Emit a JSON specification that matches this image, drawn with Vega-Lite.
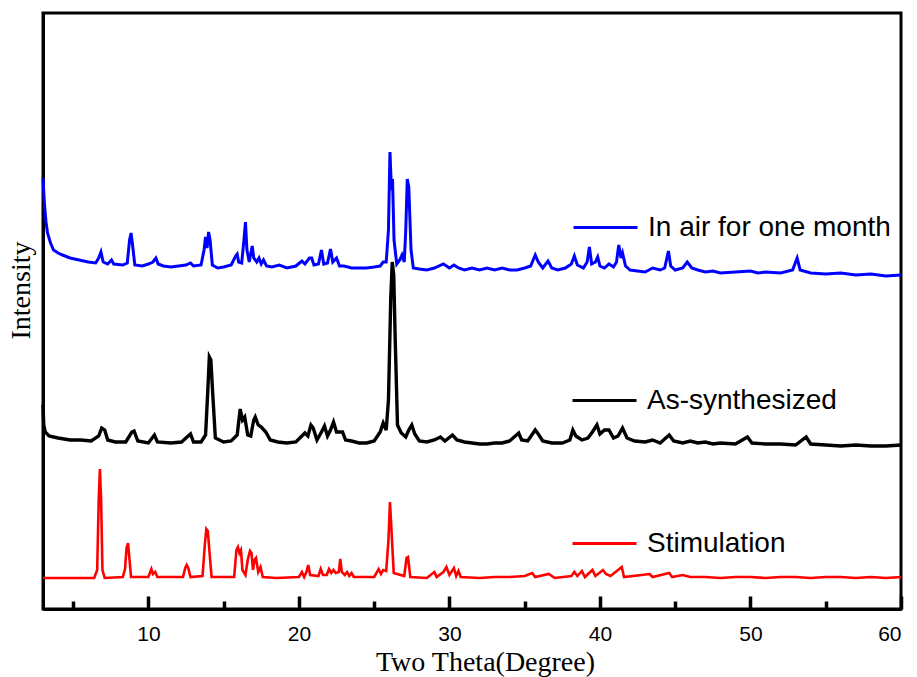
{
  "$schema": "https://vega.github.io/schema/vega-lite/v6.json",
  "width": 858,
  "height": 596,
  "autosize": "none",
  "padding": {"left": 43, "top": 13, "right": 16, "bottom": 68},
  "background": "white",
  "datasets": {
    "blue": [
      {"t":3.0,"i":431},{"t":3.1,"i":404},{"t":3.2,"i":387},{"t":3.3,"i":376},{"t":3.5,"i":366},{"t":3.7,"i":359},{"t":4.0,"i":356},{"t":4.3,"i":354},{"t":4.8,"i":351},{"t":5.4,"i":349},{"t":6.0,"i":347},{"t":6.5,"i":346},{"t":6.7,"i":351},{"t":6.85,"i":357},{"t":7.0,"i":347},{"t":7.3,"i":345},{"t":7.55,"i":349},{"t":7.7,"i":345},{"t":8.3,"i":344},{"t":8.6,"i":346},{"t":8.75,"i":369},{"t":8.85,"i":376},{"t":8.95,"i":364},{"t":9.1,"i":344},{"t":9.6,"i":343},{"t":10.0,"i":345},{"t":10.3,"i":347},{"t":10.5,"i":351},{"t":10.65,"i":345},{"t":11.0,"i":343},{"t":11.5,"i":342},{"t":12.0,"i":343},{"t":12.5,"i":344},{"t":12.8,"i":346},{"t":13.0,"i":343},{"t":13.5,"i":344},{"t":13.7,"i":359},{"t":13.8,"i":372},{"t":13.9,"i":361},{"t":14.0,"i":377},{"t":14.1,"i":369},{"t":14.25,"i":344},{"t":14.6,"i":341},{"t":15.0,"i":342},{"t":15.5,"i":344},{"t":15.8,"i":353},{"t":15.9,"i":355},{"t":16.0,"i":347},{"t":16.2,"i":346},{"t":16.35,"i":369},{"t":16.45,"i":387},{"t":16.55,"i":359},{"t":16.7,"i":347},{"t":16.9,"i":363},{"t":17.0,"i":351},{"t":17.2,"i":347},{"t":17.35,"i":351},{"t":17.5,"i":345},{"t":17.65,"i":349},{"t":17.85,"i":343},{"t":18.2,"i":342},{"t":18.7,"i":344},{"t":19.2,"i":341},{"t":19.8,"i":343},{"t":20.2,"i":348},{"t":20.4,"i":345},{"t":20.7,"i":351},{"t":20.85,"i":351},{"t":21.0,"i":344},{"t":21.3,"i":345},{"t":21.5,"i":359},{"t":21.65,"i":345},{"t":21.9,"i":346},{"t":22.1,"i":360},{"t":22.25,"i":347},{"t":22.5,"i":351},{"t":22.7,"i":343},{"t":23.0,"i":343},{"t":23.5,"i":341},{"t":24.0,"i":341},{"t":24.5,"i":341},{"t":25.0,"i":342},{"t":25.4,"i":343},{"t":25.6,"i":347},{"t":25.8,"i":347},{"t":25.95,"i":379},{"t":26.05,"i":457},{"t":26.15,"i":419},{"t":26.22,"i":430},{"t":26.32,"i":369},{"t":26.5,"i":345},{"t":26.7,"i":349},{"t":26.85,"i":354},{"t":27.0,"i":347},{"t":27.1,"i":379},{"t":27.2,"i":430},{"t":27.3,"i":422},{"t":27.45,"i":359},{"t":27.6,"i":341},{"t":28.0,"i":340},{"t":28.5,"i":339},{"t":29.0,"i":341},{"t":29.6,"i":345},{"t":30.0,"i":341},{"t":30.3,"i":344},{"t":30.6,"i":341},{"t":31.0,"i":339},{"t":31.5,"i":341},{"t":32.0,"i":339},{"t":32.5,"i":341},{"t":33.0,"i":339},{"t":33.5,"i":341},{"t":34.0,"i":339},{"t":34.5,"i":339},{"t":35.0,"i":341},{"t":35.4,"i":343},{"t":35.7,"i":354},{"t":35.9,"i":347},{"t":36.2,"i":341},{"t":36.55,"i":348},{"t":36.8,"i":341},{"t":37.2,"i":339},{"t":37.7,"i":341},{"t":38.1,"i":345},{"t":38.3,"i":353},{"t":38.5,"i":344},{"t":38.9,"i":341},{"t":39.15,"i":347},{"t":39.3,"i":362},{"t":39.45,"i":345},{"t":39.7,"i":347},{"t":39.85,"i":352},{"t":40.0,"i":343},{"t":40.3,"i":341},{"t":40.6,"i":345},{"t":40.9,"i":342},{"t":41.1,"i":347},{"t":41.25,"i":364},{"t":41.4,"i":351},{"t":41.5,"i":356},{"t":41.7,"i":343},{"t":42.0,"i":339},{"t":42.5,"i":338},{"t":43.0,"i":337},{"t":43.5,"i":341},{"t":44.0,"i":339},{"t":44.3,"i":341},{"t":44.55,"i":358},{"t":44.7,"i":343},{"t":45.0,"i":339},{"t":45.5,"i":341},{"t":45.8,"i":347},{"t":46.1,"i":341},{"t":46.5,"i":339},{"t":47.0,"i":337},{"t":47.5,"i":338},{"t":48.0,"i":336},{"t":49.0,"i":337},{"t":50.0,"i":338},{"t":50.5,"i":336},{"t":51.0,"i":337},{"t":52.0,"i":336},{"t":52.8,"i":339},{"t":53.1,"i":351},{"t":53.3,"i":339},{"t":54.0,"i":336},{"t":55.0,"i":335},{"t":56.0,"i":336},{"t":57.0,"i":334},{"t":58.0,"i":335},{"t":59.0,"i":333},{"t":60.0,"i":334}
    ],
    "black": [
      {"t":3.0,"i":204},{"t":3.05,"i":184},{"t":3.15,"i":177},{"t":3.4,"i":173},{"t":4.0,"i":171},{"t":4.8,"i":169},{"t":5.5,"i":169},{"t":6.2,"i":168},{"t":6.7,"i":173},{"t":6.9,"i":181},{"t":7.1,"i":179},{"t":7.3,"i":169},{"t":7.8,"i":167},{"t":8.5,"i":167},{"t":8.9,"i":177},{"t":9.05,"i":178},{"t":9.3,"i":168},{"t":10.0,"i":166},{"t":10.4,"i":174},{"t":10.6,"i":167},{"t":11.5,"i":166},{"t":12.2,"i":167},{"t":12.8,"i":175},{"t":13.0,"i":167},{"t":13.5,"i":167},{"t":13.8,"i":174},{"t":13.95,"i":219},{"t":14.05,"i":252},{"t":14.15,"i":249},{"t":14.3,"i":209},{"t":14.45,"i":171},{"t":15.0,"i":167},{"t":15.5,"i":168},{"t":15.9,"i":174},{"t":16.1,"i":200},{"t":16.25,"i":189},{"t":16.4,"i":192},{"t":16.6,"i":174},{"t":16.8,"i":173},{"t":17.0,"i":189},{"t":17.1,"i":192},{"t":17.3,"i":184},{"t":17.5,"i":182},{"t":17.8,"i":177},{"t":18.1,"i":169},{"t":18.6,"i":167},{"t":19.2,"i":166},{"t":19.8,"i":167},{"t":20.2,"i":173},{"t":20.4,"i":176},{"t":20.6,"i":173},{"t":20.8,"i":184},{"t":20.95,"i":181},{"t":21.2,"i":169},{"t":21.5,"i":177},{"t":21.7,"i":183},{"t":21.9,"i":173},{"t":22.1,"i":179},{"t":22.3,"i":187},{"t":22.5,"i":177},{"t":22.9,"i":177},{"t":23.1,"i":169},{"t":23.5,"i":168},{"t":24.0,"i":166},{"t":24.5,"i":166},{"t":25.0,"i":168},{"t":25.4,"i":177},{"t":25.6,"i":186},{"t":25.8,"i":179},{"t":25.95,"i":209},{"t":26.1,"i":309},{"t":26.2,"i":347},{"t":26.3,"i":334},{"t":26.4,"i":269},{"t":26.55,"i":184},{"t":26.8,"i":176},{"t":27.1,"i":172},{"t":27.3,"i":179},{"t":27.5,"i":184},{"t":27.7,"i":175},{"t":28.0,"i":168},{"t":28.5,"i":167},{"t":29.0,"i":169},{"t":29.4,"i":172},{"t":29.7,"i":168},{"t":30.2,"i":174},{"t":30.5,"i":169},{"t":31.0,"i":167},{"t":31.5,"i":166},{"t":32.0,"i":165},{"t":32.5,"i":165},{"t":33.0,"i":166},{"t":33.5,"i":166},{"t":34.0,"i":168},{"t":34.6,"i":176},{"t":34.8,"i":169},{"t":35.2,"i":168},{"t":35.7,"i":179},{"t":35.9,"i":175},{"t":36.2,"i":168},{"t":36.8,"i":166},{"t":37.5,"i":166},{"t":38.0,"i":169},{"t":38.2,"i":179},{"t":38.4,"i":173},{"t":38.8,"i":169},{"t":39.2,"i":171},{"t":39.5,"i":177},{"t":39.8,"i":184},{"t":40.0,"i":175},{"t":40.3,"i":179},{"t":40.6,"i":179},{"t":40.9,"i":171},{"t":41.2,"i":173},{"t":41.5,"i":181},{"t":41.8,"i":171},{"t":42.3,"i":168},{"t":43.0,"i":167},{"t":43.5,"i":169},{"t":44.0,"i":166},{"t":44.6,"i":174},{"t":44.9,"i":168},{"t":45.5,"i":166},{"t":46.0,"i":168},{"t":46.5,"i":166},{"t":47.0,"i":167},{"t":47.5,"i":165},{"t":48.0,"i":166},{"t":49.0,"i":165},{"t":49.8,"i":172},{"t":50.1,"i":166},{"t":51.0,"i":165},{"t":52.0,"i":165},{"t":53.0,"i":164},{"t":53.7,"i":172},{"t":54.0,"i":165},{"t":55.0,"i":164},{"t":56.0,"i":163},{"t":57.0,"i":164},{"t":58.0,"i":163},{"t":59.0,"i":163},{"t":60.0,"i":164}
    ],
    "red": [
      {"t":3.0,"i":31},{"t":6.4,"i":31},{"t":6.6,"i":39},{"t":6.7,"i":109},{"t":6.78,"i":140},{"t":6.86,"i":109},{"t":6.95,"i":39},{"t":7.1,"i":31},{"t":8.3,"i":32},{"t":8.45,"i":40},{"t":8.55,"i":61},{"t":8.65,"i":66},{"t":8.75,"i":49},{"t":8.85,"i":32},{"t":10.0,"i":32},{"t":10.2,"i":40},{"t":10.3,"i":35},{"t":10.45,"i":37},{"t":10.6,"i":32},{"t":12.3,"i":32},{"t":12.45,"i":41},{"t":12.55,"i":44},{"t":12.65,"i":41},{"t":12.8,"i":32},{"t":13.6,"i":33},{"t":13.75,"i":64},{"t":13.85,"i":80},{"t":13.95,"i":78},{"t":14.05,"i":59},{"t":14.2,"i":32},{"t":15.7,"i":32},{"t":15.85,"i":59},{"t":15.95,"i":62},{"t":16.05,"i":56},{"t":16.15,"i":59},{"t":16.25,"i":39},{"t":16.45,"i":34},{"t":16.6,"i":49},{"t":16.75,"i":58},{"t":16.85,"i":56},{"t":16.95,"i":39},{"t":17.05,"i":49},{"t":17.15,"i":51},{"t":17.3,"i":37},{"t":17.45,"i":42},{"t":17.6,"i":32},{"t":18.5,"i":31},{"t":20.0,"i":32},{"t":20.2,"i":37},{"t":20.35,"i":32},{"t":20.5,"i":37},{"t":20.62,"i":44},{"t":20.75,"i":34},{"t":21.3,"i":33},{"t":21.45,"i":40},{"t":21.6,"i":34},{"t":21.85,"i":34},{"t":22.0,"i":40},{"t":22.15,"i":36},{"t":22.3,"i":39},{"t":22.45,"i":36},{"t":22.65,"i":37},{"t":22.75,"i":50},{"t":22.85,"i":37},{"t":23.05,"i":34},{"t":23.2,"i":37},{"t":23.35,"i":33},{"t":23.5,"i":36},{"t":23.65,"i":32},{"t":25.0,"i":32},{"t":25.3,"i":40},{"t":25.45,"i":35},{"t":25.6,"i":39},{"t":25.8,"i":38},{"t":25.95,"i":69},{"t":26.05,"i":107},{"t":26.15,"i":79},{"t":26.3,"i":36},{"t":27.0,"i":33},{"t":27.15,"i":51},{"t":27.25,"i":52},{"t":27.4,"i":32},{"t":28.5,"i":31},{"t":29.0,"i":37},{"t":29.15,"i":32},{"t":29.6,"i":37},{"t":29.8,"i":42},{"t":30.0,"i":34},{"t":30.3,"i":41},{"t":30.45,"i":33},{"t":30.6,"i":38},{"t":30.75,"i":32},{"t":32.0,"i":31},{"t":33.0,"i":32},{"t":34.0,"i":32},{"t":35.0,"i":33},{"t":35.5,"i":36},{"t":35.7,"i":32},{"t":36.6,"i":35},{"t":37.0,"i":31},{"t":38.1,"i":33},{"t":38.3,"i":37},{"t":38.5,"i":33},{"t":38.8,"i":38},{"t":39.0,"i":32},{"t":39.5,"i":39},{"t":39.7,"i":33},{"t":40.2,"i":39},{"t":40.4,"i":35},{"t":40.7,"i":33},{"t":41.45,"i":42},{"t":41.6,"i":32},{"t":43.3,"i":35},{"t":43.5,"i":32},{"t":44.6,"i":36},{"t":44.8,"i":32},{"t":45.5,"i":34},{"t":46.0,"i":32},{"t":47.0,"i":32},{"t":48.0,"i":31},{"t":49.0,"i":32},{"t":50.0,"i":32},{"t":51.0,"i":31},{"t":52.0,"i":32},{"t":53.0,"i":32},{"t":54.0,"i":31},{"t":55.0,"i":32},{"t":56.0,"i":32},{"t":57.0,"i":31},{"t":58.0,"i":32},{"t":59.0,"i":31},{"t":60.0,"i":32}
    ]
  },
  "layer": [
    {
      "data": {"name": "blue"},
      "transform": [{"calculate": "'In air for one month'", "as": "s"}],
      "mark": {"type": "line", "strokeWidth": 3},
      "encoding": {
        "x": {"field": "t", "type": "quantitative", "scale": {"domain": [3, 60], "nice": false, "zero": false},
          "axis": {"orient": "bottom", "values": [10, 20, 30, 40, 50, 60], "ticks": true, "tickSize": -13, "tickColor": "#000000", "tickWidth": 3.5, "labelPadding": 44, "labelBaseline": "alphabetic",
            "title": "Two Theta(Degree)", "titleX": 442, "titleY": 61, "titleBaseline": "alphabetic", "titleAnchor": null}},
        "y": {"field": "i", "type": "quantitative", "scale": {"domain": [0, 596], "nice": false, "zero": false},
          "axis": {"title": "Intensity", "ticks": false, "labels": false, "titleX": -22, "titleY": 277, "titleAngle": 270, "titleBaseline": "middle", "titleAlign": "center"}},
        "color": {"field": "s", "type": "nominal", "scale": {"domain": ["In air for one month"], "range": ["#0000ff"]},
          "legend": {"orient": "none", "legendX": 529, "legendY": 181, "title": null, "symbolType": "stroke", "symbolSize": 4096, "symbolStrokeWidth": 3, "labelOffset": 9, "padding": 0}}
      }
    },
    {
      "data": {"name": "black"},
      "transform": [{"calculate": "'As-synthesized'", "as": "s"}],
      "mark": {"type": "line", "strokeWidth": 3.4},
      "encoding": {
        "x": {"field": "t", "type": "quantitative", "scale": {"domain": [3, 60], "nice": false, "zero": false},
          "axis": {"orient": "bottom", "values": [5, 15, 25, 35, 45, 55], "ticks": true, "tickSize": -8, "tickColor": "#000000", "tickWidth": 3.5, "labels": false, "domain": false, "title": null}},
        "y": {"field": "i", "type": "quantitative", "scale": {"domain": [0, 596], "nice": false, "zero": false},
          "axis": {"title": "Intensity", "ticks": false, "labels": false, "titleX": -22, "titleY": 277, "titleAngle": 270, "titleBaseline": "middle", "titleAlign": "center"}},
        "color": {"field": "s", "type": "nominal", "scale": {"domain": ["As-synthesized"], "range": ["#000000"]},
          "legend": {"orient": "none", "legendX": 528, "legendY": 354, "title": null, "symbolType": "stroke", "symbolSize": 4096, "symbolStrokeWidth": 3, "labelOffset": 9, "padding": 0}}
      }
    },
    {
      "data": {"name": "red"},
      "transform": [{"calculate": "'Stimulation'", "as": "s"}],
      "mark": {"type": "line", "strokeWidth": 2.6},
      "encoding": {
        "x": {"field": "t", "type": "quantitative", "scale": {"domain": [3, 60], "nice": false, "zero": false}, "axis": null},
        "y": {"field": "i", "type": "quantitative", "scale": {"domain": [0, 596], "nice": false, "zero": false},
          "axis": {"title": "Intensity", "ticks": false, "labels": false, "titleX": -22, "titleY": 277, "titleAngle": 270, "titleBaseline": "middle", "titleAlign": "center"}},
        "color": {"field": "s", "type": "nominal", "scale": {"domain": ["Stimulation"], "range": ["#ff0000"]},
          "legend": {"orient": "none", "legendX": 528, "legendY": 497, "title": null, "symbolType": "stroke", "symbolSize": 4096, "symbolStrokeWidth": 3, "labelOffset": 9, "padding": 0}}
      }
    }
  ],
  "resolve": {"scale": {"color": "independent"}, "legend": {"color": "independent"}, "axis": {"x": "independent"}},
  "config": {
    "view": {"stroke": "#000000", "strokeWidth": 3},
    "axis": {
      "grid": false, "domainColor": "#000000", "domainWidth": 3,
      "labelFont": "Liberation Sans", "labelFontSize": 21, "labelColor": "#000000",
      "titleFont": "Liberation Serif", "titleFontSize": 28, "titleFontWeight": "normal", "titleColor": "#000000"
    },
    "legend": {"labelFont": "Liberation Sans", "labelFontSize": 28, "labelColor": "#000000", "labelLimit": 0}
  }
}
